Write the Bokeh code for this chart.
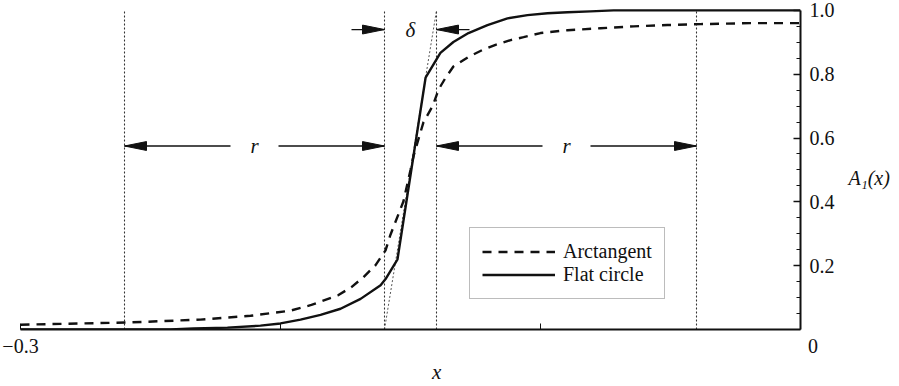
from bokeh.plotting import figure
from bokeh.models import (Range1d, LinearAxis, FixedTicker, Legend, LegendItem, Label,
                          PrintfTickFormatter)
from bokeh.embed import file_html
from bokeh.resources import INLINE

# ---- data -------------------------------------------------------------
# Arctangent transition profile A1(x)
atan_x = [-0.300, -0.2585, -0.2308, -0.2115, -0.1962, -0.1881, -0.1777, -0.1727,
          -0.1681, -0.1635, -0.1596, -0.1577, -0.1527, -0.1500, -0.1488, -0.1450,
          -0.1415, -0.1392, -0.1365, -0.1335, -0.1277, -0.1223, -0.1173, -0.1115,
          -0.1065, -0.1000, -0.0896, -0.0769, -0.0642, -0.0512, -0.0385, -0.0192, 0.0]
atan_y = [0.015, 0.022, 0.031, 0.043, 0.059, 0.077, 0.108, 0.133,
          0.164, 0.201, 0.248, 0.297, 0.402, 0.500, 0.545, 0.650,
          0.700, 0.752, 0.789, 0.824, 0.854, 0.876, 0.892, 0.907,
          0.916, 0.929, 0.938, 0.944, 0.950, 0.954, 0.957, 0.960, 0.960]

# Flat-circle transition profile A1(x)
flat_x = [-0.300, -0.2423, -0.2335, -0.2204, -0.2077, -0.2000, -0.1923, -0.1846,
          -0.1769, -0.1692, -0.1615, -0.1596, -0.1550, -0.1442, -0.1385, -0.1335,
          -0.1277, -0.1204, -0.1127, -0.1050, -0.0973, -0.0896, -0.0808, -0.0719, 0.0]
flat_y = [0.000, 0.000, 0.003, 0.006, 0.012, 0.019, 0.031, 0.046,
          0.065, 0.096, 0.139, 0.158, 0.220, 0.789, 0.867, 0.901,
          0.929, 0.954, 0.975, 0.985, 0.991, 0.994, 0.997, 1.000, 1.000]

# geometry of the transition zone
x_center = -0.15
delta = 0.02
r = 0.1
guide_x = [x_center - delta / 2 - r, x_center - delta / 2,
           x_center + delta / 2, x_center + delta / 2 + r]

r_arrow_y = 0.575
delta_arrow_y = 0.94

x_ticks = [-0.3, -0.2, -0.1, 0.0]
y_ticks = [0.2, 0.4, 0.6, 0.8, 1.0]
y_minor = [0.05, 0.1, 0.15, 0.25, 0.3, 0.35, 0.45, 0.5, 0.55, 0.65, 0.7, 0.75,
           0.85, 0.9, 0.95]

# ---- figure -----------------------------------------------------------
FONT = "Liberation Serif"
INK = "#111111"
NBSP = "\u00a0"
W, H = 899, 386
ML, MR, MT, MB = 20, 99, 0, 53
x0, x1 = -0.3, 0.0
y0, y1 = 0.0, 1.031

p = figure(width=W, height=H, output_backend="svg", toolbar_location=None,
           x_range=Range1d(x0, x1), y_range=Range1d(y0, y1),
           x_axis_location=None, y_axis_location=None,
           min_border_left=ML, min_border_right=MR,
           min_border_top=MT, min_border_bottom=MB)
p.outline_line_color = None
p.xgrid.visible = False
p.ygrid.visible = False
p.background_fill_color = "white"
p.border_fill_color = "white"

frame_w = W - ML - MR
frame_h = H - MT - MB
px_x = frame_w / (x1 - x0)   # pixels per x unit
px_y = frame_h / (y1 - y0)   # pixels per y unit

# bottom axis
xa = LinearAxis(ticker=FixedTicker(ticks=x_ticks, minor_ticks=[]), bounds=(x0, x1))
xa.axis_line_width = 2
xa.axis_line_color = INK
xa.major_tick_in = 6
xa.major_tick_out = 0
xa.major_tick_line_color = INK
xa.major_tick_line_width = 1
xa.minor_tick_line_color = None
xa.major_label_overrides = {-0.3: "\u22120.3", -0.2: "", -0.1: "", 0.0: NBSP * 5 + "0"}
xa.major_label_text_font = FONT
xa.major_label_text_font_size = "20px"
xa.major_label_text_color = INK
xa.major_label_standoff = 5
xa.axis_label = NBSP * 10 + "x"
xa.axis_label_text_font = FONT
xa.axis_label_text_font_style = "italic"
xa.axis_label_text_font_size = "21px"
xa.axis_label_text_color = INK
xa.axis_label_standoff = 0
p.add_layout(xa, "below")

# right axis (label set one line lower so it sits just under mid-height)
ya = LinearAxis(ticker=FixedTicker(ticks=y_ticks, minor_ticks=y_minor), bounds=(0.0, 1.0))
ya.formatter = PrintfTickFormatter(format="%.1f")
ya.axis_line_width = 2
ya.axis_line_color = INK
ya.major_tick_in = 7
ya.major_tick_out = 0
ya.minor_tick_in = 4
ya.minor_tick_out = 0
ya.major_tick_line_color = INK
ya.minor_tick_line_color = INK
ya.major_tick_line_width = 1.5
ya.minor_tick_line_width = 1
ya.major_label_text_font = FONT
ya.major_label_text_font_size = "20px"
ya.major_label_text_color = INK
ya.major_label_standoff = 9
ya.axis_label = NBSP + "\nA\u2081(x)"
ya.axis_label_orientation = "horizontal"
ya.axis_label_text_font = FONT
ya.axis_label_text_font_style = "italic"
ya.axis_label_text_font_size = "20px"
ya.axis_label_text_color = INK
ya.axis_label_standoff = 11
p.add_layout(ya, "right")

# vertical guide lines and the tangent through the centre
for gx in guide_x:
    p.line([gx, gx], [0.0, 1.0], line_color="#333333", line_width=1.1, line_dash="2 2")
p.line([x_center - delta / 2, x_center + delta / 2], [0.0, 1.0],
       line_color="#444444", line_width=0.9, line_dash="2 2")

# profiles
r_atan = p.line(atan_x, atan_y, line_color=INK, line_width=2.4, line_dash="9 7")
r_flat = p.line(flat_x, flat_y, line_color=INK, line_width=2.4)

# dimension arrows
head_len = 22 / px_x
head_hw = 4.5 / px_y


def arrow(tail_x, tip_x, y):
    p.line([tail_x, tip_x], [y, y], line_color=INK, line_width=1.3)
    d = 1 if tip_x > tail_x else -1
    p.patch([tip_x, tip_x - d * head_len, tip_x - d * head_len],
            [y, y + head_hw, y - head_hw], fill_color=INK, line_color=INK, line_width=1)


gap = 24 / px_x
for a, b in ((guide_x[0], guide_x[1]), (guide_x[2], guide_x[3])):
    mid = (a + b) / 2
    arrow(mid - gap, a, r_arrow_y)
    arrow(mid + gap, b, r_arrow_y)
    p.add_layout(Label(x=mid, y=r_arrow_y, text="r", text_align="center",
                       text_baseline="middle", text_font=FONT, text_font_style="italic",
                       text_font_size="21px", text_color=INK))

outer = 33 / px_x
arrow(guide_x[1] - outer, guide_x[1], delta_arrow_y)
arrow(guide_x[2] + outer, guide_x[2], delta_arrow_y)
p.add_layout(Label(x=x_center, y=delta_arrow_y, text="\u03b4", text_align="center",
                   text_baseline="middle", text_font=FONT, text_font_style="italic",
                   text_font_size="21px", text_color=INK))

# legend
legend = Legend(items=[LegendItem(label="Arctangent", renderers=[r_atan]),
                       LegendItem(label="Flat circle", renderers=[r_flat])],
                location=(449, 30), margin=0, padding=12, spacing=0,
                glyph_width=73, glyph_height=21, label_height=21, label_standoff=8,
                label_text_font=FONT, label_text_font_size="20px", label_text_color=INK,
                border_line_color="#7a7a7a", border_line_width=1.2,
                background_fill_color="white", background_fill_alpha=1.0)
p.add_layout(legend)

open("out.html", "w").write(file_html(p, INLINE))
